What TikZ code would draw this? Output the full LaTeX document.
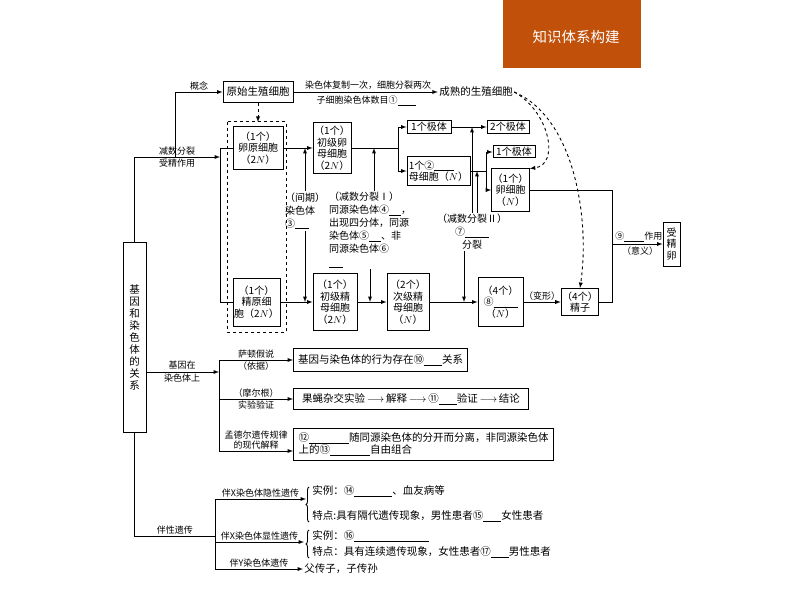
\documentclass[tikz,border=0pt]{standalone}
\usepackage{amsmath}
\usepackage{fontspec}
\setmainfont{Noto Sans CJK SC}
\usepackage{tikz}
\usetikzlibrary{positioning}
\usetikzlibrary{decorations.pathreplacing}
\usepackage{xcolor}
\definecolor{titleorange}{RGB}{192,80,10}
\newcommand\blank[1]{\underline{\hspace{#1}}}

\begin{document}
\begin{tikzpicture}[x=1pt, y=-1pt, >=latex, line width=0.9pt,
    cell/.style={draw, line width=1pt, align=center, inner sep=1pt, font=\fontsize{10}{11.5}\selectfont},
    tag/.style={align=center, inner sep=1pt, font=\fontsize{9}{10.5}\selectfont},
    txt/.style={align=left, inner sep=1pt, font=\fontsize{10.5}{12}\selectfont}]
    \useasboundingbox (0,0) rectangle (794,596);
    \fill[titleorange] (503,0) rectangle (641,68);
    \node[text=white, font=\fontsize{14.5}{16}\selectfont] (title) at (576,37) {知识体系构建};

    \node[draw, line width=1pt, minimum width=23pt, minimum height=190pt, inner sep=0pt, align=center,
        font=\fontsize{10.5}{12}\selectfont] (main) at (134.5,337) {基\\因\\和\\染\\色\\体\\的\\关\\系};

    \node[cell, minimum width=70pt, minimum height=21pt, font=\fontsize{10.5}{12}\selectfont] (origin) at (258,92) {原始生殖细胞};
    \node[txt] (mature) at (476,92) {成熟的生殖细胞};
    \draw[->] (origin) -- (mature);
    \node[tag] (copylbl) at (368,85) {染色体复制一次，细胞分裂两次};
    \node[tag] (numlbl) at (366,101) {子细胞染色体数目①\blank{18pt}};
    \draw[dashed, line width=1pt] (227,122) rectangle (286,332);
    \coordinate (dashtop) at (258,122);
    \draw[dashed, ->] (origin) -- (dashtop);

    \node[cell, minimum width=50pt, minimum height=43pt] (oogonia) at (258,148) {（1个）\\卵原细胞\\（2$N$）};
    \node[cell, minimum width=47pt, minimum height=48pt] (spermatogonia) at (256.5,302) {（1个）\\精原细\\胞（2$N$）};
    \node[cell, minimum width=38pt, minimum height=50pt] (primaryoo) at (332,148) {（1个）\\初级卵\\母细胞\\（2$N$）};
    \node[cell, minimum width=44pt, minimum height=57pt] (primarysp) at (335,302) {（1个）\\初级精\\母细胞\\（2$N$）};
    \node[cell, minimum width=42pt, minimum height=57pt] (secondarysp) at (408,302) {（2个）\\次级精\\母细胞\\（$N$）};
    \node[cell, minimum width=44pt, minimum height=13pt] (polar1) at (429,127) {1个极体};
    \node[cell, minimum width=63pt, minimum height=28pt, align=left] (secondaryoo) at (438.5,171) {1个②\blank{20pt}\\母细胞（$N$）};
    \node[cell, minimum width=42pt, minimum height=13pt] (polar2) at (508,127) {2个极体};
    \node[cell, minimum width=42pt, minimum height=12pt] (polar3) at (514,152) {1个极体};
    \node[cell, minimum width=35pt, minimum height=42pt] (egg) at (510.5,190) {（1个）\\卵细胞\\（$N$）};
    \node[cell, minimum width=45pt, minimum height=49pt] (spermatid) at (500.5,302) {（4个）\\⑧\blank{24pt}\\（$N$）};
    \node[cell, minimum width=36pt, minimum height=27pt] (sperm) at (580,302) {（4个）\\精子};
    \node[cell, minimum width=17pt, minimum height=44pt] (zygote) at (671.5,244) {受\\精\\卵};

    \coordinate (fork) at (220,157);
    \coordinate (conceptfoot) at (175,157);
    \draw[->] (main.north) |- (fork);
    \draw[->] (conceptfoot) |- (origin);
    \node[tag, above] (conceptlbl) at (199,92) {概念};
    \node[tag, font=\fontsize{9}{11.5}\selectfont] (meiolbl) at (177,157) {减数分裂\\受精作用};
    \draw (oogonia.west -| fork) -- (spermatogonia.west -| fork);
    \draw (oogonia.west -| fork) -- (oogonia);
    \draw (spermatogonia.west -| fork) -- (spermatogonia);

    \draw[->] (oogonia) -- (primaryoo);
    \coordinate (split1) at (398,148);
    \draw (primaryoo) -- (split1);
    \draw[->] (split1) |- (polar1);
    \draw[->] (split1) |- (secondaryoo);
    \draw[->] (polar1) -- (polar2);
    \coordinate (split2) at (486,171);
    \draw (secondaryoo) -- (split2);
    \draw[->] (split2) |- (polar3);
    \draw[->] (split2) |- (egg);
    \coordinate (join) at (612,190);
    \draw (egg) -- (join) -- (join |- sperm) -- (sperm);
    \coordinate (fuse) at (612,244);
    \draw[->] (fuse) -- (zygote);
    \node[tag, anchor=south west] (meaninglbl) at (614,243) {⑨\blank{20pt}作用};
    \node[tag, anchor=north] (senselbl) at (640,245) {（意义）};

    \draw[->] (spermatogonia) -- (primarysp);
    \draw[->] (primarysp) -- (secondarysp);
    \draw[->] (secondarysp) -- (spermatid);
    \draw[->] (spermatid) -- node[tag, above] (shapelbl) {（变形）} (sperm);

    \node[cell, draw=none, align=left, font=\fontsize{10}{13}\selectfont] (interlbl) at (305,211) {（间期）\\染色体\\③\blank{14pt}};
    \draw[->] (interlbl.north) -- (interlbl.north |- oogonia);
    \draw[->] (interlbl.south) -- (interlbl.south |- spermatogonia);
    \node[cell, draw=none, align=left, font=\fontsize{10}{13}\selectfont] (meiosisI) at (370,230) {（减数分裂Ⅰ）\\同源染色体④\blank{12pt}，\\出现四分体，同源\\染色体⑤\blank{12pt}、非\\同源染色体⑥\\\blank{14pt}};
    \draw[->] ([xshift=4pt]meiosisI.north) -- ([xshift=4pt]meiosisI.north |- primaryoo);
    \draw[->] (meiosisI.south) -- (meiosisI.south |- primarysp);
    \node[cell, draw=none, font=\fontsize{10}{13}\selectfont] (meiosisII) at (472,232) {（减数分裂Ⅱ）\\⑦\blank{24pt}\\分裂};
    \draw[->] (meiosisII.north) -- (meiosisII.north |- polar1);
    \draw[->] ([xshift=5pt]meiosisII.north) -- ([xshift=5pt]meiosisII.north |- secondaryoo);
    \draw[->] ([xshift=-8pt]meiosisII.south) -- ([xshift=-8pt]meiosisII.south |- spermatid);

    \draw[->, dashed] (mature.east) .. controls (550,112) and (560,165) .. (egg.north east);
    \draw[->, dashed] (mature.east) .. controls (575,118) and (590,220) .. (sperm.north);

    \coordinate (genefork) at (219,372);
    \coordinate (lawin) at (219,451);
    \draw[->] (main.east |- genefork) -- (genefork);
    \node[tag, font=\fontsize{9}{13}\selectfont] (genelbl) at (182,372) {基因在\\染色体上};
    \node[cell, txt, draw, line width=1pt, anchor=west, minimum width=174pt, minimum height=23pt] (hypo) at (293,360) {基因与染色体的行为存在⑩\blank{18pt}关系};
    \node[cell, txt, draw, line width=1pt, anchor=west, minimum width=235pt, minimum height=21pt] (proof) at (293,399) {果蝇杂交实验\,$\longrightarrow$\,解释\,$\longrightarrow$\,⑪\blank{18pt}验证\,$\longrightarrow$\,结论};
    \node[cell, txt, draw, line width=1pt, anchor=west, minimum width=260pt, minimum height=32pt, inner xsep=3pt] (law) at (293,444) {⑫\blank{40pt}随同源染色体的分开而分离，非同源染色体\\上的⑬\blank{40pt}自由组合};
    \draw (hypo.west -| genefork) -- (lawin);
    \draw[->] (hypo.west -| genefork) -- node[tag, above] (suttonlbl) {萨顿假说} node[tag, below] (basislbl) {（依据）} (hypo);
    \draw[->] (proof.west -| genefork) -- node[tag, above] (morganlbl) {（摩尔根）} node[tag, below] (testlbl) {实验验证} (proof);
    \draw[->] (lawin) -- node[tag, above] (mendellbl) {孟德尔遗传规律\\的现代解释} (law.west |- lawin);

    \coordinate (sexfork) at (215,536);
    \coordinate (xr) at (215,499);
    \coordinate (xd) at (215,542);
    \coordinate (yl) at (215,569);
    \coordinate (xrtip) at (306,499);
    \coordinate (xdtip) at (304,542);
    \draw (main.south) |- node[tag, above, pos=0.75] (sexlbl) {伴性遗传} (sexfork);
    \draw (xr) -- (yl);
    \draw[->] (xr) -- node[tag, above] (xrlbl) {伴X染色体隐性遗传} (xrtip);
    \draw[->] (xd) -- node[tag, above] (xdlbl) {伴X染色体显性遗传} (xdtip);
    \node[txt, anchor=west] (yl1) at (303,569) {父传子，子传孙};
    \draw[->] (yl) -- node[tag, above] (yllbl) {伴Y染色体遗传} (yl1);
    \draw[decorate, decoration={brace, amplitude=3pt}] (309,522) -- (309,487);
    \draw[decorate, decoration={brace, amplitude=3pt}] (309,558) -- (309,530);
    \node[txt, anchor=west] (xr1) at (311,491) {实例：⑭\blank{38pt}、血友病等};
    \node[txt, anchor=west] (xr2) at (311,516) {特点:具有隔代遗传现象，男性患者⑮\blank{18pt}女性患者};
    \node[txt, anchor=west] (xd1) at (311,536) {实例：⑯\blank{75pt}};
    \node[txt, anchor=west] (xd2) at (311,552) {特点：具有连续遗传现象，女性患者⑰\blank{18pt}男性患者};
\end{tikzpicture}
\end{document}
